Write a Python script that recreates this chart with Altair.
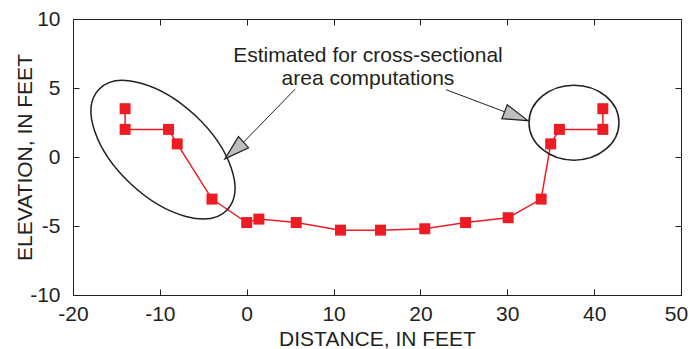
import altair as alt
import pandas as pd

# ---- data ----
distance = [-14.0, -14.0, -9.0, -8.0, -4.0, 0.0, 1.4, 5.7, 10.8, 15.4, 20.5, 25.2, 30.1, 33.9, 35.0, 36.0, 41.0, 41.0]
elevation = [3.5, 2.0, 2.0, 0.95, -3.05, -4.75, -4.5, -4.75, -5.3, -5.3, -5.2, -4.75, -4.4, -3.05, 0.95, 2.0, 2.0, 3.5]

x_ticks = [-20, -10, 0, 10, 20, 30, 40, 50]
y_ticks = [-10, -5, 0, 5, 10]

note_lines = ["Estimated for cross-sectional", "area computations"]
note_x = [13.96, 13.96]
note_y = [7.34, 5.62]

ellipse_x = [-9.64, 37.68]
ellipse_y = [0.53, 2.49]

arrow_x = [5.56, 22.94]
arrow_y = [4.91, 4.88]
arrow_x2 = [-0.37, 29.68]
arrow_y2 = [1.07, 3.28]

head_x = [-1.44, 31.03]
head_y = [0.47, 2.96]
head_angle = [138, 21]

# ---- styles ----
RED = "#ED1C24"
INK = "#231F20"
FONT = "Liberation Sans"

df = pd.DataFrame({"distance": distance, "elevation": elevation, "order": list(range(len(distance)))})
notes = pd.DataFrame({"text": note_lines, "x": note_x, "y": note_y})
ell_left = pd.DataFrame({"x": ellipse_x[:1], "y": ellipse_y[:1]})
ell_right = pd.DataFrame({"x": ellipse_x[1:], "y": ellipse_y[1:]})
arrows = pd.DataFrame({"x": arrow_x, "y": arrow_y, "x2": arrow_x2, "y2": arrow_y2})
heads = pd.DataFrame({"x": head_x, "y": head_y, "angle": head_angle})

xscale = alt.Scale(domain=[-20, 50], nice=False, zero=False)
yscale = alt.Scale(domain=[-10, 10], nice=False, zero=False)


def ellipse_path(r):
    k = 0.5523
    return (f"M 1 0 C 1 {k*r:.4f} {k:.4f} {r:.4f} 0 {r:.4f} "
            f"C {-k:.4f} {r:.4f} -1 {k*r:.4f} -1 0 "
            f"C -1 {-k*r:.4f} {-k:.4f} {-r:.4f} 0 {-r:.4f} "
            f"C {k:.4f} {-r:.4f} 1 {-k*r:.4f} 1 0 Z")


TRIANGLE = "M 1 0 L -1 -0.6 L -1 0.6 Z"
LABEL = "'' + datum.value"

x_bottom = alt.Axis(orient="bottom", values=x_ticks, domain=False, offset=-6, tickSize=6,
                    tickColor=INK, tickWidth=1, grid=False, labelFont=FONT, labelFontSize=21,
                    labelColor=INK, labelPadding=8, labelFlush=False, labelExpr=LABEL,
                    labelOffset={"condition": {"test": "datum.value === 50", "value": -5}, "value": 0},
                    title="DISTANCE, IN FEET", titleFont=FONT, titleFontSize=21,
                    titleFontWeight="normal", titleColor=INK, titleBaseline="alphabetic",
                    titleY=56.5, titleX=304, titleAlign="center")
y_left = alt.Axis(orient="left", values=y_ticks, domain=False, offset=-6, tickSize=6,
                  tickColor=INK, tickWidth=1, grid=False, labelFont=FONT, labelFontSize=21,
                  labelColor=INK, labelPadding=13, labelFlush=False, labelExpr=LABEL,
                  title="ELEVATION, IN FEET", titleFont=FONT, titleFontSize=21,
                  titleFontWeight="normal", titleColor=INK, titleBaseline="alphabetic",
                  titleX=-48, titleY=138, titleAlign="center", titleAngle=270)
x_top = alt.Axis(orient="top", values=x_ticks, domain=False, offset=-6, tickSize=6,
                 tickColor=INK, tickWidth=1, grid=False, labels=False, title=None)
y_right = alt.Axis(orient="right", values=y_ticks, domain=False, offset=-6, tickSize=6,
                   tickColor=INK, tickWidth=1, grid=False, labels=False, title=None)

line = alt.Chart(df).mark_line(color=RED, strokeWidth=1.5).encode(
    x=alt.X("distance:Q", scale=xscale, axis=x_bottom),
    y=alt.Y("elevation:Q", scale=yscale, axis=y_left),
    order="order:Q",
)

points = alt.Chart(df).mark_point(shape="square", filled=True, size=121, color=RED, opacity=1).encode(
    x=alt.X("distance:Q", scale=xscale, axis=x_top),
    y=alt.Y("elevation:Q", scale=yscale, axis=y_right),
)

left_ell = alt.Chart(ell_left).mark_point(
    shape=ellipse_path(47 / 88), size=176 * 176, angle=43, filled=False,
    stroke=INK, strokeWidth=1.5, opacity=1,
).encode(x=alt.X("x:Q", scale=xscale, axis=None), y=alt.Y("y:Q", scale=yscale, axis=None))

right_ell = alt.Chart(ell_right).mark_point(
    shape=ellipse_path(37.5 / 45), size=90 * 90, filled=False,
    stroke=INK, strokeWidth=1.5, opacity=1,
).encode(x=alt.X("x:Q", scale=xscale, axis=None), y=alt.Y("y:Q", scale=yscale, axis=None))

arrow_lines = alt.Chart(arrows).mark_rule(color=INK, strokeWidth=1).encode(
    x=alt.X("x:Q", scale=xscale, axis=None), y=alt.Y("y:Q", scale=yscale, axis=None),
    x2="x2:Q", y2="y2:Q",
)

arrow_heads = alt.Chart(heads).mark_point(
    shape=TRIANGLE, size=625, filled=True, fill="#BCBEC0", stroke=INK, strokeWidth=1.2, opacity=1,
).encode(
    x=alt.X("x:Q", scale=xscale, axis=None), y=alt.Y("y:Q", scale=yscale, axis=None),
    angle=alt.Angle("angle:Q", scale=None),
)

text = alt.Chart(notes).mark_text(font=FONT, fontSize=21, color=INK, align="center", baseline="middle").encode(
    x=alt.X("x:Q", scale=xscale, axis=None), y=alt.Y("y:Q", scale=yscale, axis=None), text="text:N",
)

chart = alt.layer(
    line, points, left_ell, right_ell, arrow_lines, arrow_heads, text
).resolve_axis(x="independent", y="independent").properties(
    width=608, height=276,
    autosize=alt.AutoSizeParams(type="none"),
    padding={"left": 73, "top": 19, "right": 8, "bottom": 54},
    background="white",
).configure_view(stroke=INK, strokeWidth=1)

chart.save("out.html", embed_options={"renderer": "svg", "actions": False})
